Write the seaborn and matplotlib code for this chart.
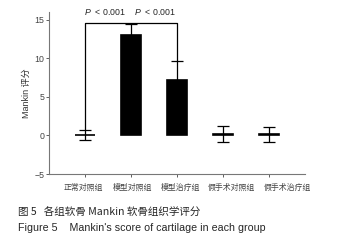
import pandas as pd
import numpy as np
import matplotlib
matplotlib.use('Agg')
import matplotlib.pyplot as plt
import seaborn as sns

groups = ['正常对照组', '模型对照组', '模型治疗组', '假手术对照组', '假手术治疗组']
means = [0.0, 13.0, 7.2, 0.2, 0.15]
sds = [0.65, 1.45, 2.4, 1.0, 1.0]
y_ticks = [-5, 0, 5, 10, 15]

sns.set_style('white')
plt.rcParams['font.family'] = ['Liberation Sans', 'Noto Sans CJK SC']
plt.rcParams['mathtext.fontset'] = 'custom'
plt.rcParams['mathtext.it'] = 'Liberation Sans:italic'
plt.rcParams['mathtext.rm'] = 'Liberation Sans'

df = pd.DataFrame({'group': groups, 'score': means, 'sd': sds})

fig = plt.figure(figsize=(3.37, 2.46), dpi=100)
ax = fig.add_axes([49/337, 1-174/246, 256/337, 162/246])

sns.barplot(data=df, x='group', y='score', color='black', width=0.43,
            edgecolor='black', linewidth=1.2, saturation=1, errorbar=None, ax=ax)
ax.errorbar(np.arange(len(groups)), df['score'], yerr=df['sd'], fmt='none',
            ecolor='black', elinewidth=0.9, capsize=4.3, capthick=0.9)

ax.set_xlim(-0.78, 4.78)
ax.set_ylim(-5, 16)
ax.set_yticks(y_ticks)
ax.set_xlabel('')
ax.set_ylabel('Mankin 评分', fontsize=6.5, color='#333333', labelpad=2)
ax.set_xticks(range(len(groups)))
ax.set_xticklabels([])
# the labels in the original sit a little right of their ticks (px)
shifts = [-2, 1, 3, 8, 18]
for i, (g, dx) in enumerate(zip(groups, shifts)):
    ax.text(i + dx/46, -0.085, g, transform=ax.get_xaxis_transform(), fontsize=5.7,
            family=['Noto Sans CJK SC'], color='#444444', ha='center', va='center')
ax.tick_params(axis='y', labelsize=6.3, colors='#444444', length=2.5, width=0.6, direction='out', left=True, pad=1)
ax.tick_params(axis='x', length=2.5, width=0.6, direction='out', bottom=True, colors='#444444')
for s in ['top', 'right']:
    ax.spines[s].set_visible(False)
for s in ['left', 'bottom']:
    ax.spines[s].set_color('#777777')
    ax.spines[s].set_linewidth(0.8)

# significance brackets
top = 14.6
ax.plot([0, 0, 2, 2], [means[0] + sds[0] + 0.1, top, top, means[2] + sds[2]],
        color='black', lw=0.9, clip_on=False)
ax.text(0.43, 16.0, r'$P$  < 0.001', fontsize=6.3, ha='center', va='center', clip_on=False)
ax.text(1.52, 16.0, r'$P$  < 0.001', fontsize=6.3, ha='center', va='center', clip_on=False)

fig.text(18/337, 1-213/246, '图 5   各组软骨 Mankin 软骨组织学评分', fontsize=7.6,
         family=['Noto Sans CJK SC'], va='center', ha='left')
fig.text(18/337, 1-228/246, "Figure 5    Mankin's score of cartilage in each group",
         fontsize=7.7, va='center', ha='left')

fig.savefig('out.png', dpi=100)
